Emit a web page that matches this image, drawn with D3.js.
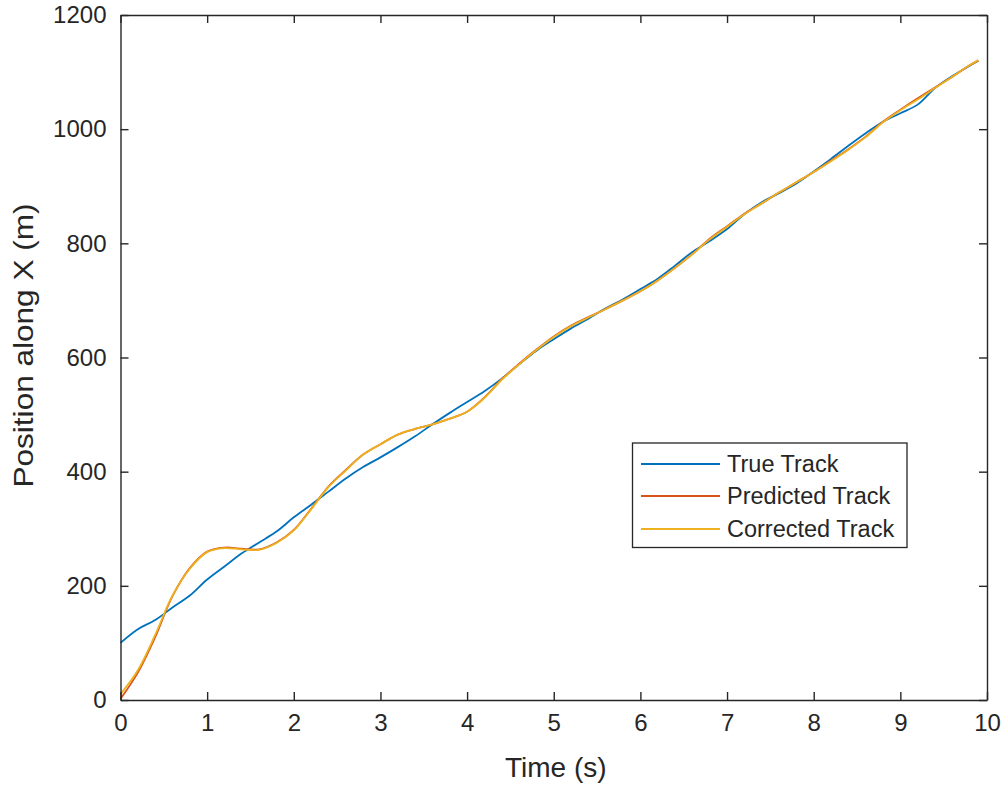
<!DOCTYPE html>
<html>
<head>
<meta charset="utf-8">
<script src="https://cdn.jsdelivr.net/npm/d3@7"></script>
<style>
  html, body { margin: 0; padding: 0; background: #ffffff; }
  svg { display: block; }
  text { font-family: "Liberation Sans", Arial, Helvetica, sans-serif; fill: #262626; }
</style>
</head>
<body>
<svg id="chart" width="1007" height="788"></svg>
<script>
// ---- data ----
const times = [0, 0.2, 0.4, 0.6, 0.8, 1.0, 1.2, 1.4, 1.6, 1.8, 2.0, 2.2, 2.4, 2.6, 2.8, 3.0, 3.2, 3.4, 3.6, 3.8,
  4.0, 4.2, 4.4, 4.6, 4.8, 5.0, 5.2, 5.4, 5.6, 5.8, 6.0, 6.2, 6.4, 6.6, 6.8, 7.0, 7.2, 7.4, 7.6, 7.8,
  8.0, 8.2, 8.4, 8.6, 8.8, 9.0, 9.2, 9.4, 9.6, 9.8, 9.9];

const trueTrack = [100, 124, 140, 162, 183, 211, 234, 257, 276, 295, 320, 342, 365, 388, 408, 425, 443, 462, 483, 503,
  522, 541, 563, 588, 612, 632, 651, 668, 686, 702, 720, 738, 761, 785, 804, 825, 851, 872, 888, 905,
  926, 948, 971, 993, 1013, 1028, 1043, 1072, 1093, 1111, 1120];

const predictedTrack = [2, 48, 110, 182, 231, 260, 267, 265, 264, 276, 298, 335, 374, 403, 430, 448, 465, 475, 483, 493,
  505, 530, 562, 589, 614, 637, 656, 671, 685, 700, 716, 735, 757, 781, 808, 830, 852, 870, 889, 907,
  925, 945, 965, 987, 1013, 1034, 1054, 1073, 1092, 1112, 1120];

const correctedTrack = [10, 52, 114, 183, 230, 259, 266, 264, 263, 275, 297, 334, 373, 402, 430, 448, 465, 475, 483, 493,
  505, 529, 561, 588, 613, 636, 655, 670, 685, 700, 716, 735, 757, 781, 807, 829, 851, 870, 889, 907,
  925, 944, 964, 986, 1012, 1033, 1052, 1072, 1092, 1112, 1121];

const xTicks = [0, 1, 2, 3, 4, 5, 6, 7, 8, 9, 10];
const yTicks = [0, 200, 400, 600, 800, 1000, 1200];
const seriesNames = ["True Track", "Predicted Track", "Corrected Track"];
const seriesColors = ["#0072BD", "#D95319", "#EDB120"];

// ---- layout ----
const plot = { left: 120.5, right: 987, top: 15, bottom: 700 };
const axisColor = "#262626";

const svg = d3.select("#chart");
const x = d3.scaleLinear().domain([0, 10]).range([plot.left, plot.right]);
const y = d3.scaleLinear().domain([0, 1200]).range([plot.bottom, plot.top]);

// series
const seriesData = [trueTrack, predictedTrack, correctedTrack];
const line = d3.line().x(d => x(d[0])).y(d => y(d[1])).curve(d3.curveCatmullRom.alpha(0.5));
seriesData.forEach((vals, i) => {
  const pts = times.map((t, j) => [t, vals[j]]);
  svg.append("path")
    .datum(pts)
    .attr("d", line)
    .attr("fill", "none")
    .attr("stroke", seriesColors[i])
    .attr("stroke-width", 1.8)
    .attr("stroke-linejoin", "round");
});

// axes (MATLAB-like box with inward ticks)
const tickLen = 8;
const fmt = d3.format("d");
const xAxisB = d3.axisBottom(x).tickValues(xTicks).tickFormat(fmt).tickSizeInner(-tickLen).tickSizeOuter(0).tickPadding(14);
const xAxisT = d3.axisTop(x).tickValues(xTicks).tickSizeInner(-tickLen).tickSizeOuter(0).tickFormat("");
const yAxisL = d3.axisLeft(y).tickValues(yTicks).tickFormat(fmt).tickSizeInner(-tickLen).tickSizeOuter(0).tickPadding(14);
const yAxisR = d3.axisRight(y).tickValues(yTicks).tickSizeInner(-tickLen).tickSizeOuter(0).tickFormat("");

function styleAxis(g) {
  g.select(".domain").attr("stroke", axisColor).attr("stroke-width", 1.4);
  g.selectAll(".tick line").attr("stroke", axisColor).attr("stroke-width", 1.4);
  g.selectAll(".tick text").attr("fill", axisColor).style("font-size", "24px")
    .style("font-family", '"Liberation Sans", Arial, sans-serif');
}
svg.append("g").attr("transform", `translate(0,${plot.bottom})`).call(xAxisB).call(styleAxis);
svg.append("g").attr("transform", `translate(0,${plot.top})`).call(xAxisT).call(styleAxis);
svg.append("g").attr("transform", `translate(${plot.left},0)`).call(yAxisL).call(styleAxis);
svg.append("g").attr("transform", `translate(${plot.right},0)`).call(yAxisR).call(styleAxis);

// axis labels
svg.append("text")
  .attr("x", (plot.left + plot.right) / 2 + 2)
  .attr("y", 777)
  .attr("text-anchor", "middle")
  .style("font-size", "28px")
  .text("Time (s)");

svg.append("text")
  .attr("transform", `translate(33,${(plot.top + plot.bottom) / 2 - 12}) rotate(-90)`)
  .attr("text-anchor", "middle")
  .style("font-size", "28px")
  .attr("textLength", 284)
  .attr("lengthAdjust", "spacingAndGlyphs")
  .text("Position along X (m)");

// legend
const legend = { left: 632.5, top: 443, right: 907, bottom: 547.5 };
svg.append("rect")
  .attr("x", legend.left).attr("y", legend.top)
  .attr("width", legend.right - legend.left).attr("height", legend.bottom - legend.top)
  .attr("fill", "#ffffff").attr("stroke", axisColor).attr("stroke-width", 1.3);
const rowY = [464, 496, 529];
seriesNames.forEach((name, i) => {
  svg.append("line")
    .attr("x1", 641).attr("x2", 720)
    .attr("y1", rowY[i]).attr("y2", rowY[i])
    .attr("stroke", seriesColors[i]).attr("stroke-width", 1.8);
  svg.append("text")
    .attr("x", 727).attr("y", rowY[i])
    .attr("dy", "0.35em")
    .style("font-size", "23.5px")
    .text(name);
});
</script>
</body>
</html>
